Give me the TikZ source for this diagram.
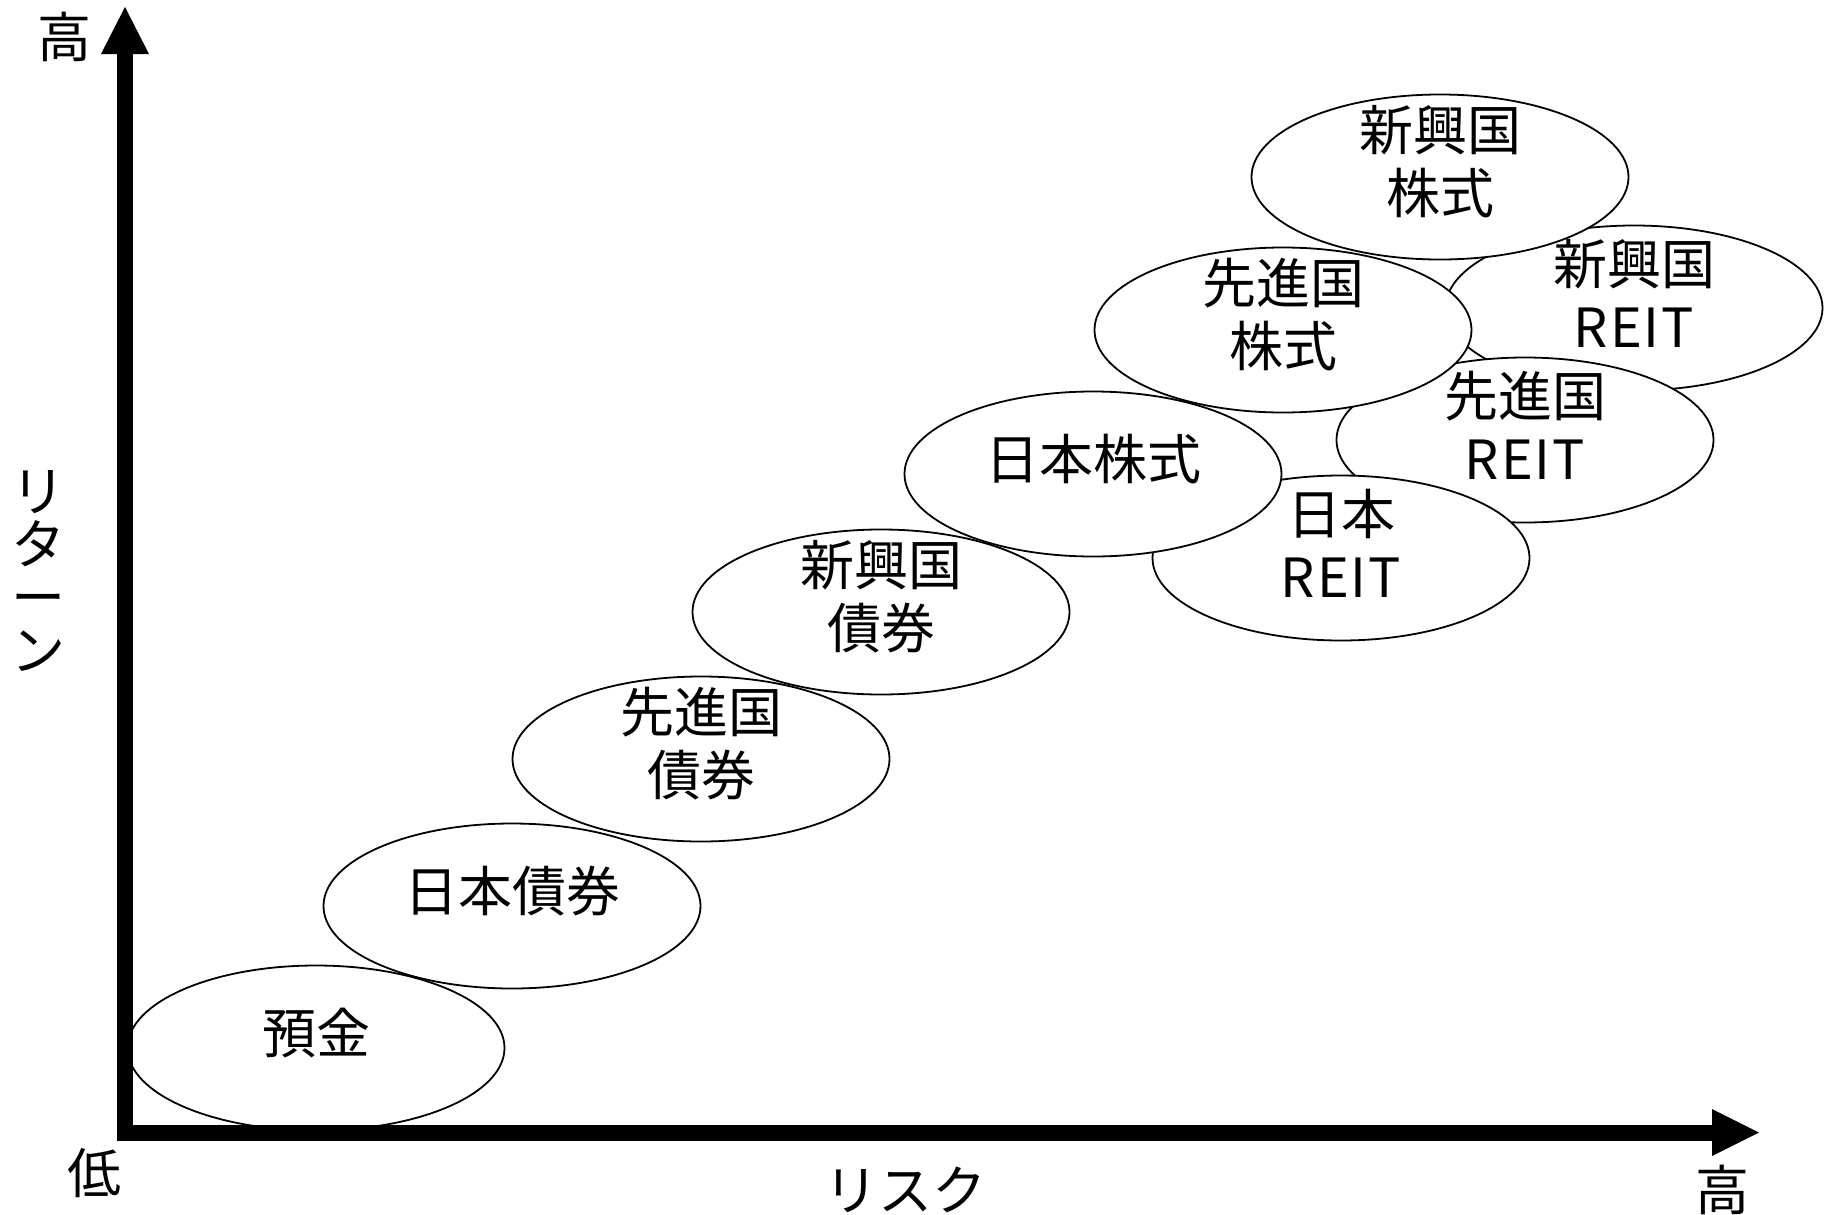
\documentclass[tikz,border=0pt]{standalone}
\usepackage{fontspec}
\setmainfont{Noto Sans CJK JP}
\usetikzlibrary{shapes.geometric}
\begin{document}
\begin{tikzpicture}[x=0.5pt,y=-0.5pt,
  bub/.style={ellipse, draw=black, line width=0.9pt, fill=white,
    minimum width=188.5pt, minimum height=82.5pt, inner sep=0pt},
  lbl/.style={font=\fontsize{27}{31.5}\selectfont, align=center, inner sep=0pt},
  axlbl/.style={font=\fontsize{27}{26.5}\selectfont, align=center, inner sep=0pt},
  axisline/.style={line width=8pt, line join=miter, line cap=butt},
  axishead/.style={fill=black, draw=none}]
\useasboundingbox (0,0) rectangle (1826,1215);
\fill[white] (0,0) rectangle (1826,1215);

% ellipses, back to front
\node[bub] (e8) at (1634,308) {};
\node[bub] (e9) at (1525,440) {};
\node[bub] (e10) at (1341,558) {};
\node[bub] (e1) at (316,1048) {};
\node[bub] (e2) at (512,906) {};
\node[bub] (e3) at (701,759) {};
\node[bub] (e4) at (881,612) {};
\node[bub] (e5) at (1093,474) {};
\node[bub] (e6) at (1283,330) {};
\node[bub] (e7) at (1440,177) {};

\node[lbl] (t1) at ([yshift=7.5pt]e1.center) {預金};
\node[lbl] (t2) at ([yshift=7.5pt]e2.center) {日本債券};
\node[lbl] (t3) at ([yshift=7.5pt]e3.center) {先進国\\債券};
\node[lbl] (t4) at ([yshift=7.5pt]e4.center) {新興国\\債券};
\node[lbl] (t5) at ([yshift=7.5pt]e5.center) {日本株式};
\node[lbl] (t6) at ([yshift=7.5pt]e6.center) {先進国\\株式};
\node[lbl] (t7) at ([yshift=7.5pt]e7.center) {新興国\\株式};
\node[lbl] (t8) at ([yshift=7.5pt]e8.center) {新興国\\R\kern1ptE\kern1ptI\kern1ptT};
\node[lbl] (t9) at ([yshift=7.5pt]e9.center) {先進国\\R\kern1ptE\kern1ptI\kern1ptT};
\node[lbl] (t10) at ([yshift=7.5pt]e10.center) {日本\\R\kern1ptE\kern1ptI\kern1ptT};

% axes
\coordinate (O) at (125,1132.5);
\coordinate (ystart) at (125,50);
\coordinate (xend) at (1716,1132.5);
\coordinate (ytip) at (125,7);
\coordinate (yl) at (101,54);
\coordinate (yr) at (149,54);
\coordinate (xtip) at (1759,1132.5);
\coordinate (xu) at (1712,1109);
\coordinate (xd) at (1712,1156);
\draw[axisline] (ystart) -- (O) -- (xend);
\fill[axishead] (yl) -- (ytip) -- (yr) -- cycle;
\fill[axishead] (xu) -- (xtip) -- (xd) -- cycle;

% axis labels
\node[axlbl] (hiy) at (64,37) {高};
\node[axlbl] (lo) at (94,1173) {低};
\node[axlbl] (hix) at (1722,1190) {高};
\node[axlbl] (risk) at (905,1190) {リスク};
\node[axlbl] (ret) at (38,571) {リ\\タ\\ー\\ン};
\end{tikzpicture}
\end{document}
